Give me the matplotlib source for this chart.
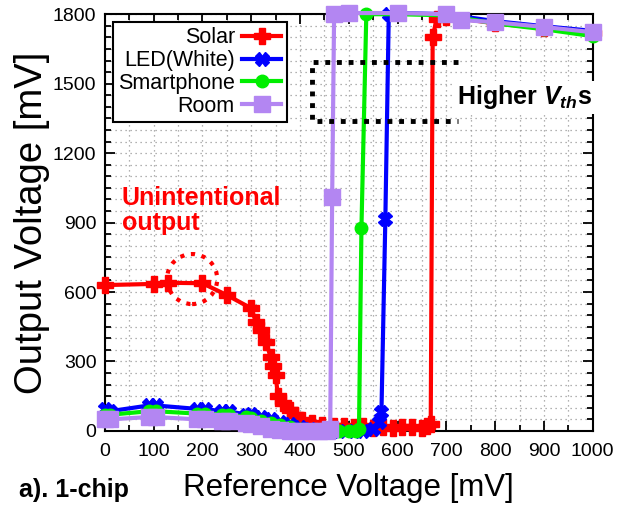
import matplotlib.pyplot as plt
from matplotlib.patches import Ellipse
from matplotlib.ticker import MultipleLocator

plt.rcParams['font.family'] = ['Liberation Sans', 'DejaVu Sans']
plt.rcParams['mathtext.fontset'] = 'custom'
plt.rcParams['mathtext.it'] = 'Liberation Sans:italic:bold'
plt.rcParams['mathtext.rm'] = 'Liberation Sans:bold'

# Output voltage vs reference voltage, one chip under four light sources
solar_x = [0, 100, 130, 200, 250, 300, 310, 320, 330, 340, 345, 350, 355, 365, 380,
           390, 405, 425, 445, 470, 490, 510, 530, 550, 570, 590, 610, 630, 650,
           660, 668, 672, 680, 700, 800, 900, 1000]
solar_y = [630, 635, 640, 638, 587, 530, 470, 436, 384, 320, 280, 242, 150, 121, 91,
           69, 47, 35, 26, 20, 22, 18, 20, 12, 15, 12, 18, 15, 14,
           20, 30, 1700, 1780, 1790, 1760, 1740, 1720]

led_x = [0, 10, 90, 105, 190, 205, 240, 255, 290, 300, 320, 340, 360, 380, 400,
         420, 450, 480, 510, 530, 550, 563, 567, 575, 582, 600, 700, 800, 900, 1000]
led_y = [95, 85, 110, 110, 95, 95, 85, 85, 70, 72, 62, 50, 40, 28, 18,
         10, 5, 0, 0, 0, 10, 40, 80, 915, 1800, 1805, 1800, 1770, 1748, 1728]

phone_x = [0, 10, 90, 105, 190, 205, 240, 255, 290, 300, 320, 340, 360, 380, 400,
           420, 450, 480, 500, 515, 521, 526, 536, 600, 700, 800, 900, 1000]
phone_y = [70, 70, 85, 85, 75, 75, 70, 70, 60, 55, 45, 35, 25, 18, 10,
           5, 0, 0, 0, 0, 10, 876, 1800, 1800, 1795, 1760, 1735, 1705]

room_x = [0, 10, 90, 105, 190, 205, 240, 255, 290, 300, 320, 340, 360, 380, 400,
          420, 440, 455, 462, 466, 470, 500, 600, 700, 730, 800, 900, 1000]
room_y = [50, 50, 60, 60, 50, 50, 45, 45, 35, 30, 20, 10, 5, 0, 0,
          0, 0, 0, 10, 1010, 1800, 1805, 1805, 1800, 1775, 1765, 1745, 1722]

series = [
    ('Solar', solar_x, solar_y, '#ff0000', 'P', 11),
    ('LED(White)', led_x, led_y, '#0000ff', 'X', 10),
    ('Smartphone', phone_x, phone_y, '#00ee00', 'o', 9),
    ('Room', room_x, room_y, '#b386f2', 's', 11),
]

# annotation geometry (data units)
circle_xy, circle_w, circle_h = (179, 656), 103, 216
box_x0, box_x1, box_y0, box_y1 = 425, 723, 1338, 1593

fig = plt.figure(figsize=(6.2, 5.07), dpi=100)
ax = fig.add_axes([0.169, 0.150, 0.787, 0.822])

for name, xs, ys, color, marker, ms in series:
    ax.plot(xs, ys, color=color, lw=3, marker=marker, ms=ms, mec=color, mfc=color,
            label=name, clip_on=False, zorder=3)

ax.set_xlim(0, 1000)
ax.set_ylim(0, 1800)
ax.xaxis.set_major_locator(MultipleLocator(100))
ax.xaxis.set_minor_locator(MultipleLocator(50))
ax.yaxis.set_major_locator(MultipleLocator(300))
ax.yaxis.set_minor_locator(MultipleLocator(50))
ax.tick_params(which='both', direction='in', top=True, right=True, width=1.3)
ax.tick_params(which='major', length=7, labelsize=14, pad=6)
ax.tick_params(axis='x', which='major', pad=9)
ax.tick_params(which='minor', length=4)
ax.grid(True, which='both', color='#999999', linestyle=(0, (1, 3)), lw=0.9)
for s in ax.spines.values():
    s.set_linewidth(1.5)

ax.set_xlabel('Reference Voltage [mV]', fontsize=22.5, labelpad=9)
ax.set_ylabel('Output Voltage [mV]', fontsize=27.5, labelpad=2)

leg = ax.legend(loc='upper left', markerfirst=False, numpoints=1, fontsize=15.5,
                fancybox=False, framealpha=1, edgecolor='black', handlelength=1.8,
                borderpad=0.25, labelspacing=0.08, handletextpad=0.35,
                borderaxespad=0, bbox_to_anchor=(0.016, 0.981))
leg.get_frame().set_linewidth(1.5)

ax.add_patch(Ellipse(circle_xy, circle_w, circle_h, fill=False, ec='#ff0000', lw=3,
                     linestyle=(0, (1, 1.6)), zorder=4))
ax.plot([box_x1, box_x0, box_x0, box_x1], [box_y1, box_y1, box_y0, box_y0], color='black',
        lw=3.5, linestyle=(0, (1, 1.4)), clip_on=False, zorder=4)

ax.text(35, 1060, 'Unintentional\noutput', color='#ff0000', fontsize=18,
        fontweight='bold', va='top', ha='left', linespacing=1.1)
ax.text(722, 1441, r'Higher $\mathit{V}_{\mathit{th}}$s', color='black', fontsize=18,
        fontweight='bold', va='center', ha='left', zorder=5, clip_on=False,
        bbox=dict(facecolor='white', edgecolor='none', pad=2))
fig.text(0.03, 0.034, 'a). 1-chip', fontsize=18, fontweight='bold', va='center')

fig.savefig('out.png', dpi=100)
